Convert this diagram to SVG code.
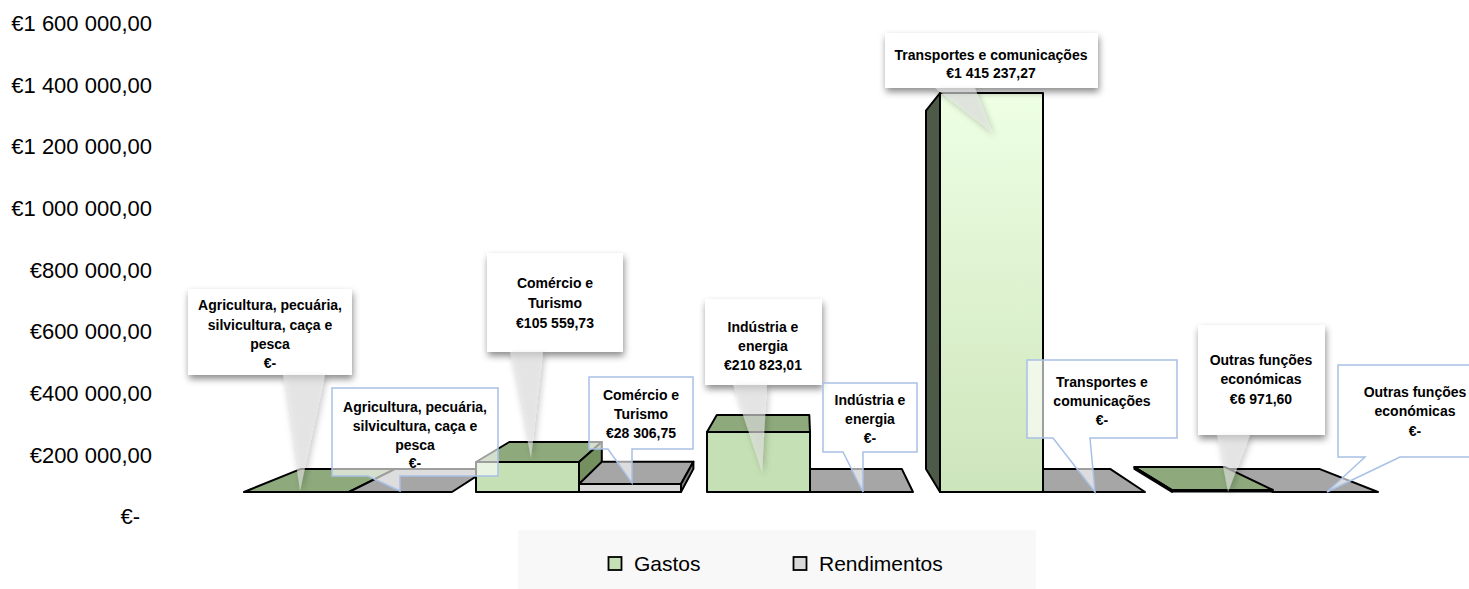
<svg xmlns="http://www.w3.org/2000/svg" width="1469" height="589" viewBox="0 0 1469 589">
<defs>
<style>
.ax{font-family:"Liberation Sans",Arial,sans-serif;font-size:22px;fill:#000;text-anchor:end}
.lg{font-family:"Liberation Sans",Arial,sans-serif;font-size:21px;fill:#000}
.cl{font-family:"Liberation Sans",Arial,sans-serif;font-size:14px;font-weight:bold;fill:#000;text-anchor:middle}
.o{stroke:#000;stroke-width:2;stroke-linejoin:round}
.gtop{fill:#8eaa7c}
.gside{fill:#75905f}
.gfront{fill:#c5e0b4}
.rtop{fill:#a6a6a6}
.rside{fill:#7f7f7f}
.rfront{fill:#d9d9d9}
.cg{fill:#fff}
.cw{fill:#e4e4e4;fill-opacity:0.6}
.cr{fill:#fff;fill-opacity:0.62;stroke:#a9c0e6;stroke-width:1.5}
</style>
<filter id="sh" x="-20%" y="-20%" width="150%" height="160%">
<feDropShadow dx="1" dy="4" stdDeviation="3.5" flood-color="#000" flood-opacity="0.45"/>
</filter>
<filter id="sh2" x="-50%" y="-10%" width="200%" height="130%">
<feDropShadow dx="2" dy="3" stdDeviation="3" flood-color="#000" flood-opacity="0.35"/>
</filter>
<linearGradient id="tg" x1="0" y1="0" x2="0" y2="1">
<stop offset="0" stop-color="#eeffe4"/>
<stop offset="1" stop-color="#cde5bb"/>
</linearGradient>
</defs>
<rect width="1469" height="589" fill="#fff"/>

<g id="axis">
<text class="ax" x="152" y="31">€1 600 000,00</text>
<text class="ax" x="152" y="93">€1 400 000,00</text>
<text class="ax" x="152" y="154">€1 200 000,00</text>
<text class="ax" x="152" y="216">€1 000 000,00</text>
<text class="ax" x="152" y="278">€800 000,00</text>
<text class="ax" x="152" y="339">€600 000,00</text>
<text class="ax" x="152" y="401">€400 000,00</text>
<text class="ax" x="152" y="463">€200 000,00</text>
<text class="ax" x="140" y="524">€-</text>
</g>

<g id="bars">
<g id="gastos-agricultura">
<polygon class="gtop o" points="244,492 349,492 395.3,468.9 301,468.9"/>
</g>
<g id="rend-agricultura">
<polygon class="rtop o" points="349,492 452,492 487.8,468.9 395.3,468.9"/>
</g>
<g id="gastos-comercio">
<polygon class="gtop o" points="476,462 579,462 601.8,442 509.3,442"/>
<polygon class="gside o" points="579,462 601.8,442 601.8,468.9 579,492"/>
<rect class="gfront o" x="476" y="462" width="103" height="30"/>
</g>
<g id="rend-comercio">
<polygon class="rtop o" points="579,484 681,484 693.4,461.7 601.8,461.7"/>
<polygon class="rside o" points="681,484 693.4,461.7 693.4,468.9 681,492"/>
<rect class="rfront o" x="579" y="484" width="102" height="8"/>
</g>
<g id="rend-industria">
<polygon class="rtop o" points="810,492 913,492 901.8,468.9 809.3,468.9"/>
</g>
<g id="gastos-industria">
<polygon class="gtop o" points="707,432 810,432 809.3,415 716.8,415"/>
<rect class="gfront o" x="707" y="432" width="103" height="60"/>
</g>
<g id="rend-outras">
<polygon class="rtop o" points="1273,492 1378,492 1319.3,468.9 1225.1,468.9"/>
</g>
<g id="gastos-outras">
<polygon class="gtop o" points="1172,490 1273,490 1225.1,467.1 1134.4,467.1"/>
<polygon class="gside o" points="1134.4,467.1 1172,490 1172,492 1134.4,468.9"/>
<rect x="1172" y="489.5" width="101" height="3" fill="#000"/>
</g>
<g id="rend-transportes">
<polygon class="rtop o" points="1043,492 1145,492 1110.1,468.9 1018.5,468.9"/>
</g>
<g id="gastos-transportes">
<polygon class="o" fill="#4d5a48" points="926,110.6 940,93 940,492 926,468.9"/>
<rect class="o" fill="url(#tg)" x="940" y="93" width="103" height="399"/>
</g>
</g>

<g id="labels-gastos">
<g id="lbl-g-agricultura">
<rect class="cg" filter="url(#sh)" x="188" y="289" width="164" height="86"/>
<polygon class="cw" filter="url(#sh2)" points="283,375 325,375 300,491"/>
<text class="cl" x="270" y="310">Agricultura, pecuária,</text>
<text class="cl" x="270" y="330">silvicultura, caça e</text>
<text class="cl" x="270" y="349">pesca</text>
<text class="cl" x="270" y="368">€-</text>
</g>
<g id="lbl-g-comercio">
<rect class="cg" filter="url(#sh)" x="487" y="253" width="136" height="99"/>
<polygon class="cw" filter="url(#sh2)" points="510,352 543,352 531,458"/>
<text class="cl" x="555" y="288">Comércio e</text>
<text class="cl" x="555" y="308">Turismo</text>
<text class="cl" x="555" y="328">€105 559,73</text>
</g>
<g id="lbl-g-industria">
<rect class="cg" filter="url(#sh)" x="705" y="299" width="117" height="86"/>
<polygon class="cw" filter="url(#sh2)" points="733,385 767,385 762,472"/>
<text class="cl" x="763" y="332">Indústria e</text>
<text class="cl" x="763" y="351">energia</text>
<text class="cl" x="763" y="370">€210 823,01</text>
</g>
<g id="lbl-g-transportes">
<rect class="cg" filter="url(#sh)" x="885" y="33" width="213" height="55"/>
<polygon class="cw" filter="url(#sh2)" points="935,88 975,88 992,132"/>
<text class="cl" x="991" y="60">Transportes e comunicações</text>
<text class="cl" x="991" y="78">€1 415 237,27</text>
</g>
<g id="lbl-g-outras">
<rect class="cg" filter="url(#sh)" x="1198" y="325" width="127" height="110"/>
<polygon class="cw" filter="url(#sh2)" points="1217,435 1250,435 1228,492"/>
<text class="cl" x="1261" y="365">Outras funções</text>
<text class="cl" x="1261" y="384">económicas</text>
<text class="cl" x="1261" y="404">€6 971,60</text>
</g>
</g>

<g id="labels-rendimentos">
<g id="lbl-r-agricultura">
<path class="cr" d="M332,388 H498 V476 H400 V491 L368,476 H332 Z"/>
<text class="cl" x="415" y="412">Agricultura, pecuária,</text>
<text class="cl" x="415" y="431">silvicultura, caça e</text>
<text class="cl" x="415" y="450">pesca</text>
<text class="cl" x="415" y="468">€-</text>
</g>
<g id="lbl-r-comercio">
<path class="cr" d="M589,377 H693 V449 H632 V483 L608,449 H589 Z"/>
<text class="cl" x="641" y="400">Comércio e</text>
<text class="cl" x="641" y="419">Turismo</text>
<text class="cl" x="641" y="438">€28 306,75</text>
</g>
<g id="lbl-r-industria">
<path class="cr" d="M823,383 H917 V452 H863 V492 L843,452 H823 Z"/>
<text class="cl" x="870" y="405">Indústria e</text>
<text class="cl" x="870" y="424">energia</text>
<text class="cl" x="870" y="443">€-</text>
</g>
<g id="lbl-r-transportes">
<path class="cr" d="M1027,360 H1177 V438 H1090 L1095,492 L1053,438 H1027 Z"/>
<text class="cl" x="1102" y="387">Transportes e</text>
<text class="cl" x="1102" y="406">comunicações</text>
<text class="cl" x="1102" y="425">€-</text>
</g>
<g id="lbl-r-outras">
<path class="cr" d="M1338,365 H1490 V457 H1400 L1327,492 L1365,457 H1338 Z"/>
<text class="cl" x="1415" y="397">Outras funções</text>
<text class="cl" x="1415" y="416">económicas</text>
<text class="cl" x="1415" y="436">€-</text>
</g>
</g>

<g id="legend">
<rect x="518" y="530" width="518" height="59" fill="#f8f8f8"/>
<rect x="608.5" y="557" width="13" height="13" fill="#c5e0b4" stroke="#000" stroke-width="1.8"/>
<text class="lg" x="634" y="571">Gastos</text>
<rect x="793.5" y="557" width="13" height="13" fill="#d9d9d9" stroke="#000" stroke-width="1.8"/>
<text class="lg" x="819" y="571">Rendimentos</text>
</g>
</svg>
